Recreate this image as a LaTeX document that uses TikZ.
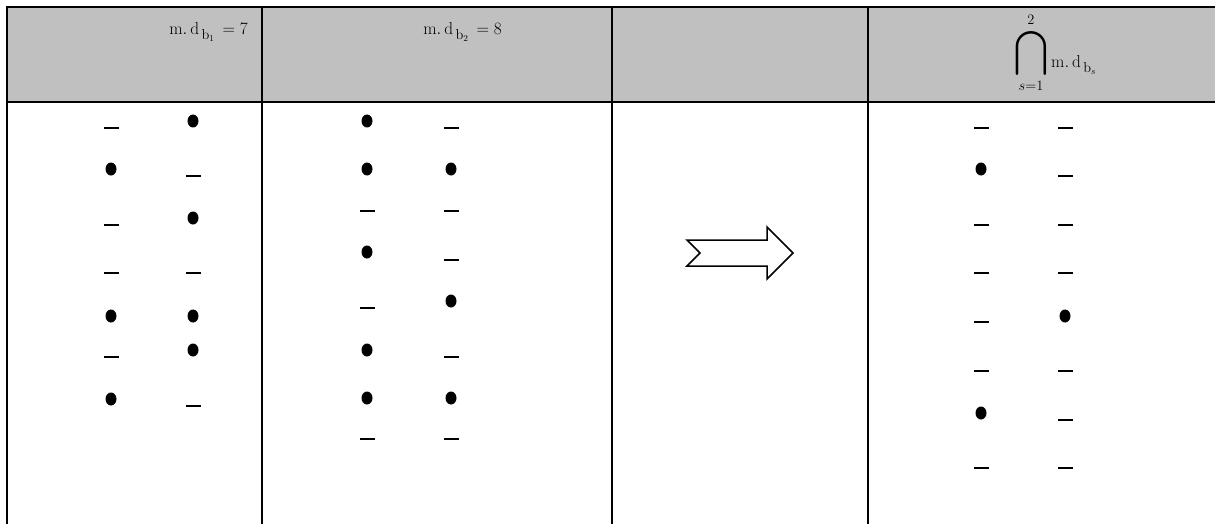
\documentclass[tikz,border=0pt]{standalone}
\usepackage{amsmath,amssymb}
\usepackage{graphicx}
\usetikzlibrary{shapes.geometric}
\definecolor{hdrgray}{RGB}{192,192,192}

\begin{document}
\begin{tikzpicture}[
    x=1pt,y=-1pt,
    tabline/.style={line width=2pt},
    dotnode/.style={ellipse,fill=black,inner sep=0pt,minimum width=11pt,minimum height=13pt},
    barnode/.style={rectangle,fill=black,inner sep=0pt,minimum width=15pt,minimum height=2pt},
    hdr/.style={font=\fontsize{19}{22}\selectfont,inner sep=0pt}
]
\useasboundingbox (0,0) rectangle (1215,524);
% header band and table rules
\fill[hdrgray] (7,7) rectangle (1215,102);
\draw[tabline] (7,524) -- (7,7) -- (1215,7);
\draw[tabline] (7,102) -- (1215,102);
\foreach \x in {262,612,868}
  \draw[tabline] (\x,7) -- (\x,524);

% header texts
\node[hdr,anchor=base east] (hd1) at (248,35) {$\mathrm{m.\,d}_{\,\mathrm{b}_1}\,= 7$};
\node[hdr,anchor=base east] (hd2) at (502,35) {$\mathrm{m.\,d}_{\,\mathrm{b}_2}\,= 8$};
\node[hdr] (cap) at (1031,53)
  {$\mathop{\vcenter{\hbox{\scalebox{1.6}[1.65]{$\displaystyle\bigcap$}}}}\limits_{s=1}^{2}$};
\node[hdr,anchor=base west] (hd4) at (1051,68) {$\mathrm{m.\,d}_{\,\mathrm{b}_s}$};

% column b_1
\foreach \y/\k [count=\i] in {128/barnode,169/dotnode,225/barnode,273/barnode,316/dotnode,357/barnode,399/dotnode}
  \node[\k] (aL\i) at (111,\y) {};
\foreach \y/\k [count=\i] in {121/dotnode,176/barnode,218/dotnode,273/barnode,316/dotnode,350/dotnode,406/barnode}
  \node[\k] (aR\i) at (193,\y) {};

% column b_2
\foreach \y/\k [count=\i] in {121/dotnode,169/dotnode,211/barnode,252/dotnode,308/barnode,350/dotnode,398/dotnode,439/barnode}
  \node[\k] (bL\i) at (367,\y) {};
\foreach \y/\k [count=\i] in {128/barnode,169/dotnode,211/barnode,260/barnode,301/dotnode,357/barnode,398/dotnode,439/barnode}
  \node[\k] (bR\i) at (451,\y) {};

% block arrow
\draw[line width=1.5pt,fill=white] (687,240) -- (767,240) -- (767,227) -- (793,253)
  -- (767,279) -- (767,266) -- (687,266) -- (700,253) -- cycle;

% intersection
\foreach \y/\k [count=\i] in {128/barnode,169/dotnode,225/barnode,273/barnode,322/barnode,371/barnode,413/dotnode,468/barnode}
  \node[\k] (zL\i) at (981,\y) {};
\foreach \y/\k [count=\i] in {128/barnode,176/barnode,225/barnode,273/barnode,316/dotnode,371/barnode,420/barnode,468/barnode}
  \node[\k] (zR\i) at (1065,\y) {};
\end{tikzpicture}
\end{document}
